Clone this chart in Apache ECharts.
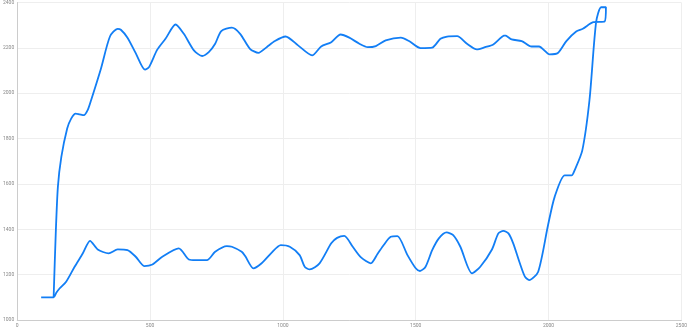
<!DOCTYPE html>
<html>
<head>
<meta charset="utf-8">
<script src="https://cdn.jsdelivr.net/npm/echarts@6/dist/echarts.min.js"></script>
<style>html,body{margin:0;padding:0;background:#fff;}#c{width:690px;height:330px;}</style>
</head>
<body>
<div id="c"></div>
<script>
// Loop path: start segment, lower branch (left to right), upper branch (right to left)
const xValues = [90,137,147,160,184,216,247,274,303,344,378,415,446,478,509,546,608,646,671,714,745,789,808,845,858,889,920,957,992,1026,1063,1082,1101,1138,1182,1204,1231,1263,1294,1331,1356,1381,1406,1431,1469,1500,1516,1537,1562,1587,1616,1641,1668,1712,1743,1787,1811,1830,1849,1867,1892,1911,1927,1961,1998,2023,2061,2087,2098,2127,2154,2179,2198,2216,2211,2168,2129,2104,2067,2035,2004,1964,1936,1899,1861,1836,1792,1761,1730,1693,1656,1618,1593,1562,1518,1475,1444,1387,1350,1319,1288,1250,1217,1182,1144,1110,1057,1010,970,939,908,876,839,808,768,745,721,696,665,627,596,558,527,496,481,446,415,390,378,349,315,278,266,251,234,220,203,188,166,153,145,137];
const yValues = [1100,1100,1120,1140,1169,1235,1294,1349,1311,1294,1311,1308,1279,1238,1245,1279,1316,1267,1264,1264,1301,1326,1323,1301,1282,1228,1250,1296,1330,1323,1286,1235,1223,1250,1338,1362,1371,1323,1276,1250,1291,1333,1367,1370,1286,1228,1216,1235,1308,1360,1386,1374,1323,1206,1235,1311,1382,1393,1382,1338,1250,1191,1176,1213,1418,1543,1638,1638,1660,1748,1969,2313,2379,2379,2316,2313,2284,2272,2230,2177,2171,2206,2206,2230,2237,2255,2215,2203,2193,2218,2252,2250,2240,2201,2199,2230,2245,2233,2208,2203,2218,2245,2259,2225,2206,2167,2211,2250,2230,2203,2178,2196,2262,2289,2274,2218,2181,2164,2189,2262,2303,2240,2192,2115,2104,2177,2245,2280,2284,2250,2108,1969,1928,1903,1907,1910,1888,1844,1719,1587,1383,1101];
const xTicks = [0, 500, 1000, 1500, 2000, 2500];
const yTicks = [1000, 1200, 1400, 1600, 1800, 2000, 2200, 2400];

const points = xValues.map((x, i) => [x, yValues[i]]);
const chart = echarts.init(document.getElementById('c'), null, {renderer: 'canvas'});
const labelStyle = {fontSize: 5, color: '#888', margin: 3, fontFamily: 'Roboto', formatter: v => String(v)};
chart.setOption({
  animation: false,
  grid: {left: 14, right: 7, top: 2, bottom: 10, containLabel: false},
  xAxis: {
    type: 'value', min: xTicks[0], max: xTicks[xTicks.length - 1], interval: 500,
    axisLine: {show: true, lineStyle: {color: '#cccccc', width: 1}},
    axisTick: {show: false},
    axisLabel: labelStyle,
    splitLine: {show: true, lineStyle: {color: '#eeeeee', width: 1}}
  },
  yAxis: {
    type: 'value', min: yTicks[0], max: yTicks[yTicks.length - 1], interval: 200,
    axisLine: {show: true, lineStyle: {color: '#cccccc', width: 1}},
    axisTick: {show: false},
    axisLabel: labelStyle,
    splitLine: {show: true, lineStyle: {color: '#eeeeee', width: 1}}
  },
  series: [{
    type: 'line',
    data: points,
    smooth: 0.25,
    showSymbol: false,
    symbol: 'none',
    lineStyle: {color: '#127ef5', width: 1.8},
    itemStyle: {color: '#127ef5'}
  }]
});
</script>
</body>
</html>
